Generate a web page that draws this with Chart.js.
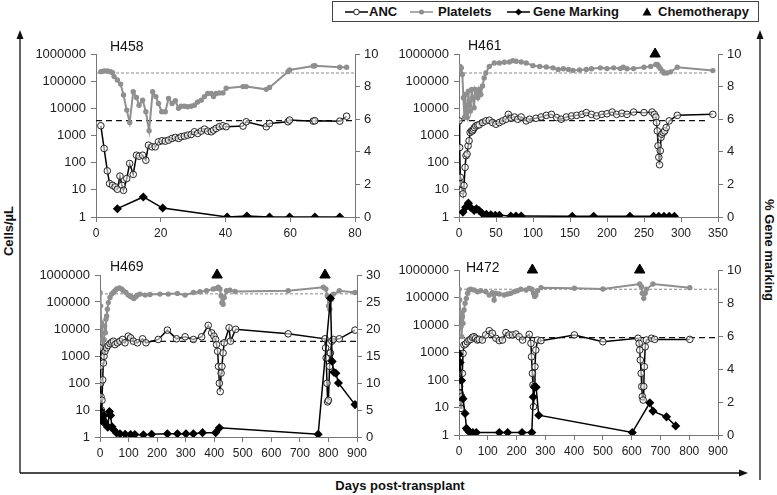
<!DOCTYPE html>
<html>
<head>
<meta charset="utf-8">
<script src="https://cdn.jsdelivr.net/npm/chart.js@4.4.0/dist/chart.umd.min.js"></script>
<style>
  body { margin: 0; width: 777px; height: 495px; position: relative; background: #fff; overflow: hidden;
         font-family: "Liberation Sans", Arial, sans-serif; }
  .txt { position: absolute; font-weight: bold; font-size: 13px; color: #111; white-space: nowrap; line-height: 16px; }
  #legend { position: absolute; left: 332px; top: 1px; width: 427px; height: 21px; border: 1px solid #444; box-sizing: border-box; }
</style>
</head>
<body>

<svg width="777" height="495" style="position:absolute;left:0;top:0">
  <!-- outer arrows -->
  <line x1="20" y1="37" x2="20" y2="473" stroke="#111" stroke-width="1.3"/>
  <polygon points="20,30 16.5,39 23.5,39" fill="#111"/>
  <line x1="20" y1="473" x2="741" y2="473" stroke="#111" stroke-width="1.3"/>
  <polygon points="748,473 739,469.5 739,476.5" fill="#111"/>
  <line x1="760" y1="37" x2="760" y2="480" stroke="#111" stroke-width="1.3"/>
  <polygon points="760,30 756.5,39 763.5,39" fill="#111"/>
  <!-- legend symbols -->
  <line x1="345" y1="12" x2="368" y2="12" stroke="#000" stroke-width="1.5"/>
  <circle cx="356.5" cy="12" r="2.8" fill="#fff" stroke="#222" stroke-width="1"/>
  <line x1="410" y1="12" x2="433" y2="12" stroke="#8f8f8f" stroke-width="1.5"/>
  <circle cx="421.5" cy="12" r="2.5" fill="#8f8f8f"/>
  <line x1="507" y1="12" x2="530" y2="12" stroke="#000" stroke-width="1.5"/>
  <polygon points="518.5,8.5 522,12 518.5,15.5 515,12" fill="#000"/>
  <polygon points="647,7.5 651.5,15.5 642.5,15.5" fill="#000"/>
</svg>

<div id="legend"></div>
<div class="txt" style="left:369px;top:4px">ANC</div>
<div class="txt" style="left:438px;top:4px">Platelets</div>
<div class="txt" style="left:533px;top:4px">Gene Marking</div>
<div class="txt" style="left:658px;top:4px">Chemotherapy</div>

<div class="txt" style="left:9px;top:231px;transform:translate(-50%,-50%) rotate(-90deg)">Cells/µL</div>
<div class="txt" style="left:769px;top:250px;transform:translate(-50%,-50%) rotate(90deg)">% Gene marking</div>
<div class="txt" style="left:400px;top:486px;transform:translate(-50%,-50%)">Days post-transplant</div>

<script>
// ---- data: [day, value] pairs ----
const logTicks = [1, 10, 100, 1000, 10000, 100000, 1000000];
const plateletRef = 200000;
const ancRef = 3500;
const chemoLevel = 1000000;

const h458Platelets = [[1.5,224000],[2.5,237000],[3.5,237000],[4.5,224000],[5.1,205000],[5.6,147000],[6.6,110000],[7.6,78000],[8.5,31000],[9.5,8600],[10.4,3000],[11.5,41000],[12.5,25000],[13.3,13000],[14.4,20000],[15.4,7500],[16.4,1500],[17.5,41000],[18.5,27000],[19.3,15000],[20.3,7500],[21.4,7500],[22.4,23000],[23.5,15000],[24.5,19000],[25.5,10000],[26.3,12000],[27.3,12000],[28.3,11500],[29.4,12000],[30.4,13000],[31.4,17000],[32.5,20000],[33.5,27000],[34.5,35000],[35.6,35000],[36.3,27000],[37.1,35000],[38.1,37000],[39.2,37000],[40.2,55000],[45.4,63000],[46.4,63000],[52.6,50000],[53.6,59000],[59.3,224000],[59.8,258000],[67.1,363000],[67.6,370000],[75.3,325000],[77.4,325000]];
const h458Anc = [[1.5,2280],[2.5,333],[3.5,50],[4.2,17],[5.1,14.7],[5.9,12.8],[6.6,10.5],[7.4,32],[8,14.7],[8.5,9.6],[9.5,26],[10.4,93],[11.5,37],[12.5,188],[13.3,173],[14.4,188],[15.4,123],[16.2,440],[17.3,383],[18.3,383],[19.3,585],[20.4,640],[21.4,620],[22.4,675],[23.5,780],[24.5,850],[25.5,780],[26.3,900],[27.3,950],[28.3,1030],[29.4,1090],[30.4,1370],[31.4,1190],[32.5,1450],[33.5,1720],[34.5,1450],[35.6,1370],[36.3,1580],[37.1,1820],[38.1,2100],[39.2,2280],[40.2,2100],[45.4,2220],[46.4,3200],[52.6,2100],[53.6,2770],[59.3,3200],[59.8,3700],[67.1,3380],[67.6,3480],[75.3,3380],[77.4,5140]];
const h458Gene = [[6.6,0.51],[14.6,1.23],[20.6,0.55],[40.5,0],[46.6,0.06],[53.6,0],[59.8,0],[67.6,0],[75.3,0]];
const h458Chemo = [];

const h461Platelets = [[0,245000],[1.4,350000],[3.2,309000],[4.5,175000],[5.9,24500],[7.3,4570],[8.6,32600],[10,6000],[11.3,4570],[12.7,43000],[14,12200],[15.4,8000],[17.2,50000],[18.6,24500],[20.4,10500],[21.8,50000],[23.6,37500],[25.4,24500],[27.2,50000],[29.5,32600],[31.8,66000],[34,132000],[36.3,200000],[40.9,350000],[47.7,468000],[54.5,468000],[61.3,495000],[68.1,510000],[72.6,570000],[77.2,540000],[84,510000],[90.8,468000],[99.9,373000],[109,350000],[118,333000],[127,309000],[134,270000],[141,285000],[148,270000],[154,250000],[163,258000],[172,270000],[179,285000],[191,309000],[200,290000],[209,309000],[218,290000],[222,325000],[227,285000],[236,290000],[250,325000],[259,350000],[266,410000],[268,410000],[270,350000],[272,290000],[275,235000],[277,200000],[281,200000],[286,220000],[295,325000],[343,245000]];
const h461Anc = [[0,3450],[0.9,362],[1.8,29],[2.7,16.5],[4.1,9.5],[5.4,7.1],[6.8,14.4],[8.2,67],[9.5,180],[10.9,208],[12.3,418],[13.6,640],[15,1290],[16.8,1480],[18.2,1480],[19.5,1700],[20.9,1960],[22.7,2250],[25,2400],[27.2,2460],[31.8,3000],[36.3,3450],[40.9,3650],[45.4,3000],[49.9,2600],[54.5,3000],[59,3450],[63.6,3970],[66.7,6000],[70.4,4300],[74.9,4800],[79.4,3970],[84,4800],[90.8,3450],[95.3,3970],[104,4300],[111,4800],[118,5520],[125,6000],[132,4570],[138,3970],[145,4800],[152,5250],[159,5520],[166,6000],[172,6950],[179,6000],[186,5250],[193,6000],[200,6300],[207,7300],[213,6000],[220,6600],[227,6000],[236,7300],[250,6950],[261,7300],[264,6000],[266,4800],[267,3000],[268,1480],[269,418],[270,158],[271,84],[272,275],[273,850],[274,1120],[276,1290],[278,1480],[280,1960],[284,3450],[295,5520],[343,6000]];
const h461Gene = [[5.4,0.3],[9,0.6],[12.7,0.85],[15.4,0.6],[20.4,0.4],[23.6,0.5],[27.2,0.4],[31.8,0.2],[37,0.16],[43,0.14],[49,0.1],[54.5,0.1],[70,0.06],[77,0.06],[84,0.06],[153,0.04],[182,0.04],[231,0.04],[263,0.04],[270,0.04],[277,0.04],[284,0.04],[291,0.04]];
const h461Chemo = [265];

const h469Platelets = [[0,226000],[2.3,72000],[4.7,17100],[7,4100],[9.3,2300],[11.7,1300],[14,4100],[16.3,12900],[18.7,7250],[21,22800],[23.3,30300],[25.7,54000],[29.2,95000],[35,147000],[40.8,196000],[46.7,226000],[52.5,262000],[58.3,302000],[67.7,330000],[75.8,302000],[81.7,262000],[91,226000],[99,180000],[107,160000],[114,147000],[119,135000],[126,160000],[131,180000],[140,196000],[158,180000],[175,190000],[210,196000],[239,196000],[271,208000],[298,180000],[327,226000],[350,240000],[373,262000],[397,302000],[408,320000],[414,350000],[420,302000],[424,170000],[427,95000],[431,83000],[435,147000],[443,262000],[455,275000],[473,245000],[659,262000],[782,350000],[791,302000],[796,170000],[800,72000],[805,54000],[811,127000],[817,196000],[838,262000],[893,226000]];
const h469Anc = [[0,2000],[1.2,412],[2.3,98],[3.5,31],[4.7,10],[7,23],[9.3,131],[11.7,550],[14,980],[17.5,1500],[23,2000],[29,2450],[35,2900],[41,3250],[47,3540],[52.5,2650],[61,3080],[70,3540],[79,4100],[87.5,3080],[99,5460],[107,4700],[117,3540],[131,3080],[149,4330],[161,3080],[204,4100],[236,9100],[268,4330],[298,5150],[327,4100],[356,5150],[379,13600],[391,7200],[399,5460],[405,4100],[408,2650],[412,1500],[415,412],[418,98],[421,48],[424,232],[427,412],[431,1300],[435,3080],[452,11100],[457,3540],[475,9700],[659,6620],[788,4330],[790,2000],[792,850],[795,98],[797,20],[800,23],[804,412],[807,1300],[812,3540],[817,4100],[838,4330],[893,9100]];
const h469Gene = [[0,5.0],[3,3.6],[6,3.0],[10,3.3],[14,4.0],[17,2.8],[22,2.2],[27,1.8],[33,4.7],[37,4.0],[42,1.9],[47,1.4],[58,0.75],[70,0.6],[88,0.5],[107,0.45],[122,0.45],[152,0.4],[181,0.5],[236,0.6],[271,0.6],[301,0.6],[327,0.6],[359,0.8],[405,0.8],[418,1.7],[764,0.5],[807,25.7],[813,14],[819,12],[826,11.8],[835,10],[893,6]];
const h469Chemo = [410, 788];

const h472Platelets = [[0,200000],[2.3,81000],[4.7,26600],[7,8700],[9.3,3780],[11.6,20000],[14,11500],[17.4,35000],[21,61500],[25.6,93000],[30,142000],[35,187000],[40.7,200000],[52,187000],[64,162000],[75.6,177000],[93,162000],[105,123000],[116,150000],[122,81000],[128,142000],[140,134000],[157,123000],[169,134000],[180,142000],[192,162000],[203,177000],[215,200000],[233,187000],[244,216000],[253,200000],[259,142000],[263,108000],[267,123000],[273,177000],[285,228000],[401,216000],[500,204000],[628,309000],[634,245000],[637,142000],[642,93000],[647,142000],[651,200000],[674,309000],[802,228000]];
const h472Anc = [[0,930],[1.2,100],[2.3,58],[3.5,33],[4.7,14],[7,9.3],[9.3,25],[11.6,174],[14,930],[17.4,1880],[23,2040],[29,2460],[35,2840],[40.7,3000],[46.5,3560],[52,3760],[58,3300],[64,2840],[70,3000],[81,2840],[93,4360],[105,6200],[116,5000],[128,3300],[140,2700],[151,2840],[163,5300],[174,4360],[186,4360],[198,4700],[209,3760],[221,2840],[244,4550],[250,2150],[252,700],[255,174],[257,66],[259,10.7],[262,58],[264,305],[267,1230],[273,2840],[285,2700],[401,4360],[500,2460],[622,3300],[626,2150],[628,1230],[630,535],[633,174],[635,58],[637,25],[640,18.7],[642,58],[644,305],[647,1620],[651,2840],[669,3300],[680,3000],[802,3000]];
const h472Gene = [[0,4.9],[4,4.4],[9,3.3],[14,2.2],[21,1.3],[26,0.4],[30,0.3],[35,0.2],[48,0.15],[60,0.15],[140,0.15],[169,0.15],[219,0.15],[253,0.15],[258,2.3],[263,2.9],[268,2.9],[277,1.2],[602,0.15],[663,1.95],[674,1.45],[721,1.1],[753,0.55]];
const h472Chemo = [255, 628];

// ---- layout (page pixels) ----
const panels = [
  { name: 'H458', rect: [96, 54, 355, 217], label: [110, 47], xMax: 80, xStep: 20, gMax: 10, gStep: 2, refEnd: 80,
    platelets: h458Platelets, anc: h458Anc, gene: h458Gene, chemo: h458Chemo },
  { name: 'H461', rect: [459, 54, 718, 217], label: [468, 46], xMax: 350, xStep: 50, gMax: 10, gStep: 2, refEnd: 335,
    platelets: h461Platelets, anc: h461Anc, gene: h461Gene, chemo: h461Chemo },
  { name: 'H469', rect: [100, 275, 357, 437], label: [110, 267], xMax: 900, xStep: 100, gMax: 30, gStep: 5, refEnd: 900,
    platelets: h469Platelets, anc: h469Anc, gene: h469Gene, chemo: h469Chemo },
  { name: 'H472', rect: [459, 270, 718, 435], label: [466, 268], xMax: 900, xStep: 100, gMax: 10, gStep: 2, refEnd: 900,
    platelets: h472Platelets, anc: h472Anc, gene: h472Gene, chemo: h472Chemo }
];

Chart.defaults.font.family = '"Liberation Sans", Arial, sans-serif';
Chart.defaults.color = '#222';

const AXIS = '#777';
const toXY = arr => arr.map(d => ({ x: d[0], y: d[1] }));

function makePanel(p) {
  const [L, T, R, B] = p.rect;
  const cv = document.createElement('canvas');
  cv.width = R - L + 94;
  cv.height = B - T + 48;
  cv.style.cssText = `position:absolute;left:${L - 60}px;top:${T - 22}px`;
  document.body.appendChild(cv);

  const nameLabel = {
    id: 'nameLabel',
    afterDraw(chart) {
      const ctx = chart.ctx;
      ctx.save();
      ctx.font = '14px "Liberation Sans", Arial, sans-serif';
      ctx.fillStyle = '#111';
      ctx.textBaseline = 'middle';
      ctx.fillText(p.name, p.label[0] - (L - 60), p.label[1] - (T - 22));
      ctx.restore();
    }
  };

  new Chart(cv, {
    type: 'scatter',
    data: {
      datasets: [
        { data: p.chemo.map(d => ({ x: d, y: chemoLevel })), yAxisID: 'y', pointStyle: 'triangle',
          pointRadius: 6, pointBackgroundColor: '#000', pointBorderColor: '#000', clip: false, order: 0 },
        { data: toXY(p.gene), yAxisID: 'y2', showLine: true, borderColor: '#000', borderWidth: 1.5,
          pointStyle: 'rectRot', pointRadius: 3.5, pointBackgroundColor: '#000', pointBorderColor: '#000', order: 1 },
        { data: toXY(p.anc), yAxisID: 'y', showLine: true, borderColor: '#000', borderWidth: 1.5,
          pointRadius: 3.3, pointBorderWidth: 1, pointBorderColor: '#222', pointBackgroundColor: 'rgba(255,255,255,0.55)', order: 2 },
        { data: toXY(p.platelets), yAxisID: 'y', showLine: true, borderColor: '#8f8f8f', borderWidth: 2,
          pointRadius: 2.7, pointBorderWidth: 0, pointBackgroundColor: '#8f8f8f', order: 3 },
        { data: [{ x: 0, y: ancRef }, { x: p.refEnd, y: ancRef }], yAxisID: 'y', showLine: true,
          borderColor: '#111', borderWidth: 1.2, borderDash: [6, 4], pointRadius: 0, order: 4 },
        { data: [{ x: 0, y: plateletRef }, { x: p.refEnd, y: plateletRef }], yAxisID: 'y', showLine: true,
          borderColor: '#888', borderWidth: 1, borderDash: [3, 2], pointRadius: 0, order: 5 }
      ]
    },
    options: {
      responsive: false,
      animation: false,
      devicePixelRatio: 1,
      layout: { padding: { top: 22, left: 0, right: 0, bottom: 0 } },
      plugins: { legend: { display: false }, tooltip: { enabled: false } },
      scales: {
        x: {
          type: 'linear', min: 0, max: p.xMax,
          ticks: { stepSize: p.xStep, padding: 4, font: { size: 12 }, maxRotation: 0 },
          grid: { drawOnChartArea: false, drawTicks: true, tickLength: 5, color: AXIS },
          border: { color: AXIS },
          afterFit: s => { s.height = 26; }
        },
        y: {
          type: 'logarithmic', position: 'left', min: 1, max: 1000000,
          afterBuildTicks: s => { s.ticks = logTicks.map(v => ({ value: v })); },
          ticks: { callback: v => String(v), padding: 5, font: { size: 13 } },
          grid: { drawOnChartArea: false, drawTicks: true, tickLength: 5, color: AXIS },
          border: { color: AXIS },
          afterFit: s => { s.width = 60; }
        },
        y2: {
          type: 'linear', position: 'right', min: 0, max: p.gMax,
          ticks: { stepSize: p.gStep, padding: 4, font: { size: 13 } },
          grid: { drawOnChartArea: false, drawTicks: true, tickLength: 5, color: AXIS },
          border: { color: AXIS },
          afterFit: s => { s.width = 34; }
        }
      }
    },
    plugins: [nameLabel]
  });
}

panels.forEach(makePanel);
</script>
</body>
</html>
